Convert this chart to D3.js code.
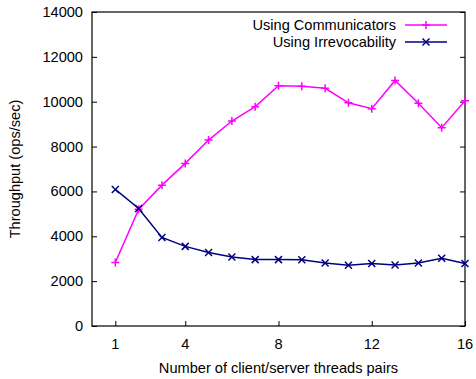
<!DOCTYPE html>
<html>
<head>
<meta charset="utf-8">
<script src="https://cdn.jsdelivr.net/npm/d3@7"></script>
<style>
body { margin: 0; background: #fff; }
text { font-family: "Liberation Sans", Arial, sans-serif; font-size: 14.6px; fill: #000; }
</style>
</head>
<body>
<script>
var width = 476;
var height = 379;

var threads = [1, 2, 3, 4, 5, 6, 7, 8, 9, 10, 11, 12, 13, 14, 15, 16];
var communicators = [2830, 5200, 6280, 7250, 8290, 9140, 9780, 10710, 10690, 10600, 9950, 9690, 10950, 9930, 8840, 10040];
var irrevocability = [6090, 5240, 3950, 3550, 3280, 3080, 2960, 2960, 2950, 2810, 2710, 2790, 2720, 2810, 3020, 2790];
var xTicks = [1, 4, 8, 12, 16];
var yTicks = [0, 2000, 4000, 6000, 8000, 10000, 12000, 14000];

var margin = {left: 92, right: 11, top: 12, bottom: 53};

var svg = d3.select("body").append("svg")
    .attr("width", width)
    .attr("height", height)

var x = d3.scaleLinear().domain([0, 16]).range([margin.left, width - margin.right]);
var y = d3.scaleLinear().domain([0, 14000]).range([height - margin.bottom, margin.top]);

// left + right ticks, pointing inward
svg.append("g")
  .attr("transform", "translate(" + margin.left + ",0)")
  .call(d3.axisRight(y).tickValues(yTicks).tickSize(5).tickFormat(""))
  .call(function(g) { g.select(".domain").remove(); });
svg.append("g")
  .attr("transform", "translate(" + (width - margin.right) + ",0)")
  .call(d3.axisLeft(y).tickValues(yTicks).tickSize(5).tickFormat(""))
  .call(function(g) { g.select(".domain").remove(); });
svg.selectAll(".ylab")
  .data(yTicks)
.enter().append("text")
  .attr("x", margin.left - 9)
  .attr("y", function(d) { return y(d) + 5; })
  .attr("text-anchor", "end")
  .text(function(d) { return d; });

// bottom ticks
svg.append("g")
  .attr("transform", "translate(0," + (height - margin.bottom) + ")")
  .call(d3.axisTop(x).tickValues(xTicks).tickSize(5).tickFormat(""))
  .call(function(g) { g.select(".domain").remove(); });
svg.selectAll(".xlab")
  .data(xTicks)
.enter().append("text")
  .attr("x", function(d) { return x(d); })
  .attr("y", height - margin.bottom + 22.5)
  .attr("text-anchor", "middle")
  .text(function(d) { return d; });

svg.selectAll(".tick line").attr("stroke", "#000");

// frame
svg.append("rect")
  .attr("x", margin.left)
  .attr("y", margin.top)
  .attr("width", width - margin.left - margin.right)
  .attr("height", height - margin.top - margin.bottom)
  .attr("fill", "none")
  .attr("stroke", "#000")
  .attr("stroke-width", 1.2);

svg.append("text")
  .attr("x", x(8))
  .attr("y", height - 6)
  .attr("text-anchor", "middle")
  .text("Number of client/server threads pairs");

svg.append("text")
  .attr("transform", "translate(20," + ((margin.top + height - margin.bottom) / 2) + ") rotate(-90)")
  .attr("text-anchor", "middle")
  .text("Throughput (ops/sec)");

var line = d3.line()
  .x(function(d) { return x(d[0]); })
  .y(function(d) { return y(d[1]); });

function plus(g, cx, cy, r, color) {
  g.append("path")
    .attr("d", "M" + (cx - r) + "," + cy + "H" + (cx + r) + "M" + cx + "," + (cy - r) + "V" + (cy + r))
    .attr("stroke", color).attr("stroke-width", 1.5).attr("fill", "none");
}
function cross(g, cx, cy, r, color) {
  g.append("path")
    .attr("d", "M" + (cx - r) + "," + (cy - r) + "L" + (cx + r) + "," + (cy + r) + "M" + (cx - r) + "," + (cy + r) + "L" + (cx + r) + "," + (cy - r))
    .attr("stroke", color).attr("stroke-width", 1.5).attr("fill", "none");
}

var series = [
  {name: "Using Communicators", values: communicators, color: "#ff00ff", mark: plus},
  {name: "Using Irrevocability", values: irrevocability, color: "#000080", mark: cross}
];

series.forEach(function(s, i) {
  var pts = threads.map(function(t, j) { return [t, s.values[j]]; });
  svg.append("path")
    .attr("d", line(pts))
    .attr("fill", "none")
    .attr("stroke", s.color)
    .attr("stroke-width", 1.5);
  var g = svg.append("g");
  pts.forEach(function(p) { s.mark(g, x(p[0]), y(p[1]), s.mark === plus ? 4 : 3.5, s.color); });

  // legend
  var ly = 25 + i * 17;
  svg.append("text")
    .attr("x", 396)
    .attr("y", ly + 5)
    .attr("text-anchor", "end")
    .text(s.name);
  svg.append("line")
    .attr("x1", 405).attr("x2", 447)
    .attr("y1", ly).attr("y2", ly)
    .attr("stroke", s.color).attr("stroke-width", 1.5);
  s.mark(svg, 426, ly, s.mark === plus ? 4 : 3.5, s.color);
});
</script>
</body>
</html>
